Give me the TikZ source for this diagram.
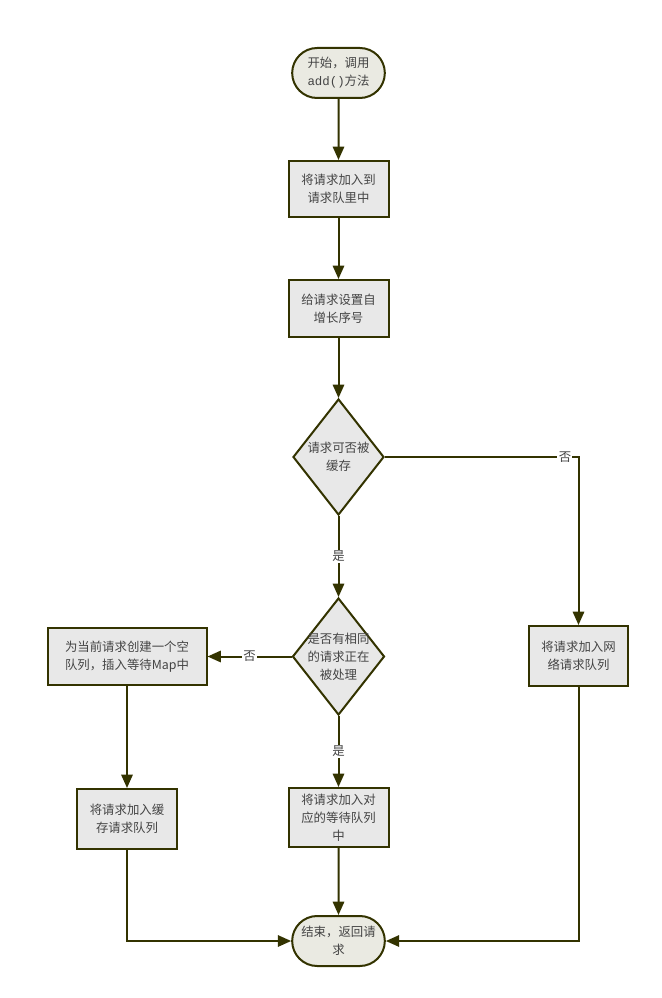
\documentclass[tikz,border=0pt]{standalone}
\usepackage{fontspec}
\setmainfont{Noto Sans CJK SC}
\newfontfamily\codefont{Liberation Mono}
\usetikzlibrary{shapes.geometric,shapes.misc,arrows.meta}
\definecolor{edgecol}{HTML}{333300}
\definecolor{boxfill}{HTML}{E8E8E8}
\definecolor{termfill}{HTML}{EAEAE2}
\definecolor{txtcol}{HTML}{444444}
\begin{document}
\begin{tikzpicture}[x=0.75pt,y=-0.75pt,
  every node/.style={font=\fontsize{9.3pt}{13.5pt}\selectfont, text=txtcol},
  procbox/.style={draw=edgecol, line width=1.5pt, fill=boxfill, align=center, inner sep=2pt},
  termbox/.style={draw=edgecol, line width=1.5pt, fill=termfill, align=center, rounded rectangle, inner sep=2pt},
  decbox/.style={draw=edgecol, line width=1.5pt, fill=boxfill, diamond, inner sep=0pt, aspect=1},
  conn/.style={draw=edgecol, line width=1.5pt, -{Triangle[length=10pt,width=8.5pt]}},
  lbl/.style={fill=white, inner sep=1pt}
]
\useasboundingbox (0,0) rectangle (661,998);

\node[termbox, minimum width=73.5pt, minimum height=37.5pt] (start) at (338.5,73) {开始，调用\\{\codefont add()}方法};
\node[procbox, minimum width=75pt, minimum height=42pt] (b1) at (338.5,189) {将请求加入到\\请求队里中};
\node[procbox, minimum width=75pt, minimum height=42.75pt] (b2) at (338.5,308.5) {给请求设置自\\增长序号};
\node[decbox, minimum width=68.25pt, minimum height=87pt] (d1) at (338.5,457) {};
\node[align=center] at (d1) {请求可否被\\缓存};
\node[decbox, minimum width=69pt, minimum height=87.75pt] (d2) at (338.5,656.5) {};
\node[align=center] at (d2) {是否有相同\\的请求正在\\被处理};
\node[procbox, minimum width=119.25pt, minimum height=42.75pt] (lb) at (127,656.5) {为当前请求创建一个空\\队列，插入等待Map中};
\node[procbox, minimum width=74.25pt, minimum height=45pt] (rb) at (578.5,656) {将请求加入网\\络请求队列};
\node[procbox, minimum width=75pt, minimum height=45pt] (lbb) at (127,819) {将请求加入缓\\存请求队列};
\node[procbox, minimum width=75pt, minimum height=44.25pt] (mb) at (338.5,817.5) {将请求加入对\\应的等待队列\\中};
\node[termbox, minimum width=73.5pt, minimum height=37.5pt] (end) at (338.5,941) {结束，返回请\\求};

\coordinate (rc) at (578.5,457);
\coordinate (lcorner) at (127,941);
\coordinate (rcorner) at (578.5,941);

\draw[conn] (start) -- (b1);
\draw[conn] (b1) -- (b2);
\draw[conn] (b2) -- (d1);
\draw[conn] (d1) -- node[lbl, pos=0.5] {是} (d2);
\draw[conn] (d1.east) -- node[lbl, pos=0.93] {否} (rc) -- (rb.north);
\draw[conn] (d2.west) -- node[lbl, pos=0.5] {否} (lb.east);
\draw[conn] (d2) -- node[lbl, pos=0.5] {是} (mb);
\draw[conn] (lb) -- (lbb);
\draw[conn] (mb) -- (end);
\draw[conn] (lbb.south) -- (lcorner) -- (end.west);
\draw[conn] (rb.south) -- (rcorner) -- (end.east);
\end{tikzpicture}
\end{document}
